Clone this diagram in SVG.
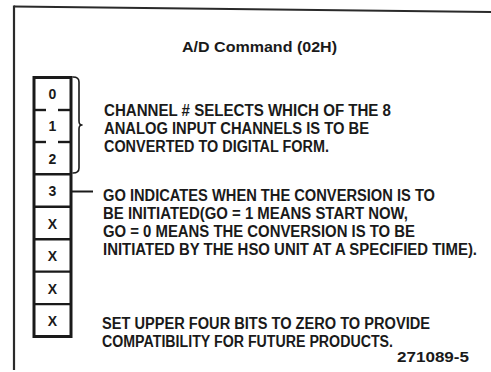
<svg xmlns="http://www.w3.org/2000/svg" width="491" height="372" viewBox="0 0 491 372">
<defs>
<style>
.frame{fill:none;stroke:#2a2a2a;stroke-width:2.2}
.box{fill:none;stroke:#1a1a1a;stroke-width:3}
.div{stroke:#1a1a1a;stroke-width:2.4}
.conn{fill:none;stroke:#1a1a1a;stroke-width:1.6;stroke-linecap:round;stroke-linejoin:round}
.lbl{font-family:"Liberation Sans",Arial,sans-serif;font-weight:bold;font-size:14px;fill:#1a1a1a;text-anchor:middle}
.txt{font-family:"Liberation Sans",Arial,sans-serif;font-weight:bold;font-size:16px;fill:#1a1a1a}
.title{font-family:"Liberation Sans",Arial,sans-serif;font-weight:bold;font-size:14.5px;fill:#1a1a1a;text-anchor:middle}
</style>
<linearGradient id="fade" x1="0" y1="0" x2="1" y2="0">
<stop offset="0" stop-color="#2a2a2a"/>
<stop offset="0.45" stop-color="#3a3a3a"/>
<stop offset="0.6" stop-color="#bbbbbb"/>
<stop offset="1" stop-color="#cccccc"/>
</linearGradient>
</defs>
<rect width="491" height="372" fill="#ffffff"/>

<g id="frame">
<line class="frame" x1="14" y1="6.5" x2="491" y2="12"/>
<line class="frame" x1="14" y1="5.5" x2="14" y2="370"/>
<line x1="13" y1="369" x2="491" y2="369" stroke="url(#fade)" stroke-width="2.2"/>
</g>

<g id="title"><text class="title" x="259.5" y="52" textLength="155" lengthAdjust="spacingAndGlyphs">A/D Command (02H)</text></g>

<g id="register">
<rect class="box" x="34" y="77.5" width="37" height="259"/>
<g id="bit0"><text class="lbl" x="52.5" y="98.5">0</text></g>
<g id="bit1"><line class="div" x1="34" y1="110" x2="46" y2="110"/><line class="div" x1="58" y1="110" x2="71" y2="110"/><text class="lbl" x="52.5" y="131">1</text></g>
<g id="bit2"><line class="div" x1="34" y1="142" x2="46" y2="142"/><line class="div" x1="58" y1="142" x2="71" y2="142"/><text class="lbl" x="52.5" y="163.5">2</text></g>
<g id="bit3"><line class="div" x1="34" y1="174.3" x2="71" y2="174.3"/><text class="lbl" x="52.5" y="196">3</text></g>
<g id="bit4"><line class="div" x1="34" y1="206.8" x2="71" y2="206.8"/><text class="lbl" x="52.5" y="228.5">X</text></g>
<g id="bit5"><line class="div" x1="34" y1="239.2" x2="71" y2="239.2"/><text class="lbl" x="52.5" y="261">X</text></g>
<g id="bit6"><line class="div" x1="34" y1="271.6" x2="71" y2="271.6"/><text class="lbl" x="52.5" y="293.5">X</text></g>
<g id="bit7"><line class="div" x1="34" y1="304.1" x2="71" y2="304.1"/><text class="lbl" x="52.5" y="325.5">X</text></g>
</g>

<g id="connectors">
<path class="conn" d="M73,77 Q79,77 79,82 L79,121 Q79,125 82,125 Q79,125 79,129 L79,168 Q79,173 73,173"/>
<line x1="71" y1="191.5" x2="93" y2="191.5" stroke="#1a1a1a" stroke-width="2"/>
</g>

<g id="desc-channel">
<text class="txt" x="104" y="115.5" textLength="287" lengthAdjust="spacingAndGlyphs">CHANNEL # SELECTS WHICH OF THE 8</text>
<text class="txt" x="104" y="134" textLength="265" lengthAdjust="spacingAndGlyphs">ANALOG INPUT CHANNELS IS TO BE</text>
<text class="txt" x="104" y="152" textLength="225" lengthAdjust="spacingAndGlyphs">CONVERTED TO DIGITAL FORM.</text>
</g>

<g id="desc-go">
<text class="txt" x="103" y="200.5" textLength="332" lengthAdjust="spacingAndGlyphs">GO INDICATES WHEN THE CONVERSION IS TO</text>
<text class="txt" x="103" y="218.5" textLength="305" lengthAdjust="spacingAndGlyphs">BE INITIATED(GO = 1 MEANS START NOW,</text>
<text class="txt" x="103" y="236.5" textLength="312" lengthAdjust="spacingAndGlyphs">GO = 0 MEANS THE CONVERSION IS TO BE</text>
<text class="txt" x="103" y="255" textLength="374" lengthAdjust="spacingAndGlyphs">INITIATED BY THE HSO UNIT AT A SPECIFIED TIME).</text>
</g>

<g id="desc-upper">
<text class="txt" x="102" y="328.5" textLength="328" lengthAdjust="spacingAndGlyphs">SET UPPER FOUR BITS TO ZERO TO PROVIDE</text>
<text class="txt" x="102" y="346.5" textLength="291" lengthAdjust="spacingAndGlyphs">COMPATIBILITY FOR FUTURE PRODUCTS.</text>
</g>

<g id="fignum"><text class="txt" x="397" y="362" textLength="72" lengthAdjust="spacingAndGlyphs" style="font-size:15px">271089-5</text></g>
</svg>
